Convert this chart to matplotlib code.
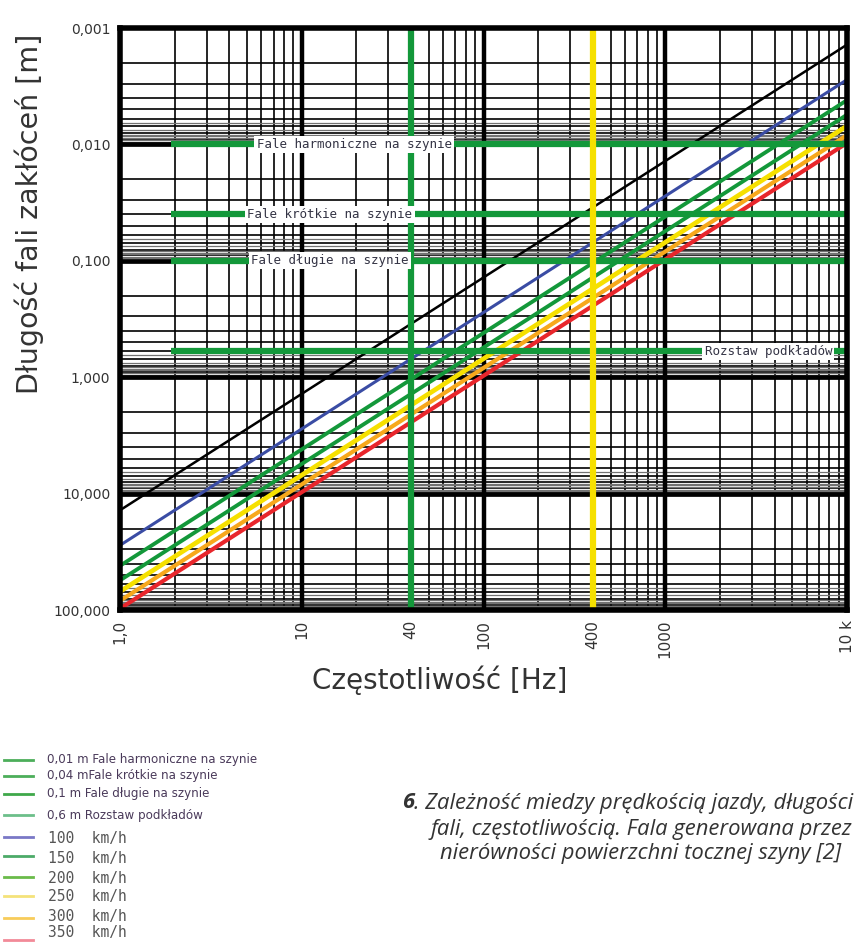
import matplotlib

matplotlib.use("Agg")
import matplotlib.pyplot as plt
from matplotlib.lines import Line2D
from matplotlib.ticker import NullLocator

# speeds (km/h) and the wavelength each gives at the two ends of the frequency range
SPEEDS_KMH = [50, 100, 150, 200, 250, 300, 350]
FREQ_ENDS = [1, 10000]
WAVE_AT_1HZ = [13.9, 27.8, 41.7, 55.6, 69.4, 83.3, 97.2]
WAVE_AT_10KHZ = [0.00139, 0.00278, 0.00417, 0.00556, 0.00694, 0.00833, 0.00972]
SPEED_COLORS = ["black", "#3a4ca4", "#13983a", "#13983a", "#f6e000", "#f7a81c", "#e8262c"]
SPEED_WIDTHS = [1.8, 2.2, 2.8, 2.8, 3.4, 3.0, 3.0]

# characteristic rail wavelengths (m)
REF_LENGTHS = [0.01, 0.04, 0.1, 0.6]
REF_NAMES = ["Fale harmoniczne na szynie", "Fale krótkie na szynie",
             "Fale długie na szynie", "Rozstaw podkładów"]
REF_LABEL_AT = [19.4, 14.3, 14.3, 3690]
REF_START = 1.9

# marked frequencies (Hz)
MARK_FREQS = [40, 400]
MARK_COLORS = ["#13983a", "#f6e000"]

X_TICKS = [1, 10, 40, 100, 400, 1000, 10000]
X_LABELS = ["1,0", "10", "40", "100", "400", "1000", "10 k"]
Y_TICKS = [0.001, 0.01, 0.1, 1, 10, 100]
Y_LABELS = ["0,001", "0,010", "0,100", "1,000", "10,000", "100,000"]

LEGEND_LABELS = ["0,01 m Fale harmoniczne na szynie", "0,04 mFale krótkie na szynie",
                 "0,1 m Fale długie na szynie", "0,6 m Rozstaw podkładów",
                 "100  km/h", "150  km/h", "200  km/h", "250  km/h", "300  km/h", "350  km/h"]
LEGEND_COLORS = ["#4cae5a", "#4cae5a", "#3fa84a", "#6cbf8a",
                 "#7a78c6", "#4caa68", "#6abb4a", "#f4e27a", "#f8cc5a", "#f28a98"]

GREEN = "#13983a"
TEXT = "#333333"

fig = plt.figure(figsize=(8.55, 9.43), dpi=100)
ax = fig.add_axes([120 / 855, 1 - 610 / 943, 727 / 855, 582 / 943])
ax.set_xscale("log")
ax.set_yscale("log")
ax.set_xlim(1, 10000)
ax.set_ylim(100, 0.001)

# grid drawn by hand: thin minor lines, grey fill-in lines, heavy decade lines
for d in range(4):
    for k in range(2, 10):
        ax.axvline(k * 10 ** d, color="black", lw=1.2, zorder=1)
for x in [10, 100, 1000]:
    ax.axvline(x, color="black", lw=3.2, zorder=1.5)
for d in range(-3, 2):
    for k in range(2, 10):
        ax.axhline(k * 10.0 ** d, color="black", lw=1.2, zorder=1)
    for k in [6.5, 7.5, 8.25, 8.5, 8.75, 9.25, 9.5, 9.75]:
        ax.axhline(k * 10.0 ** d, color="0.45", lw=0.9, zorder=1)
for y in [0.01, 0.1, 1, 10]:
    ax.axhline(y, color="black", lw=3.4, zorder=1.5)

for s in ax.spines.values():
    s.set_linewidth(4)
    s.set_zorder(10)

for i in range(len(SPEEDS_KMH)):
    ax.plot(FREQ_ENDS, [WAVE_AT_1HZ[i], WAVE_AT_10KHZ[i]], color=SPEED_COLORS[i],
            lw=SPEED_WIDTHS[i], solid_capstyle="butt", zorder=3)

for y, name, fx in zip(REF_LENGTHS, REF_NAMES, REF_LABEL_AT):
    ax.hlines(y, REF_START, 10000, color=GREEN, lw=4.5, zorder=4)
    ax.text(fx, y, name, ha="center", va="center", fontsize=9, color="#333344",
            family="DejaVu Sans Mono",
            bbox=dict(fc="white", ec="none", pad=1.5), zorder=6)

for f, c in zip(MARK_FREQS, MARK_COLORS):
    ax.axvline(f, color=c, lw=4.5, zorder=5)

ax.xaxis.set_minor_locator(NullLocator())
ax.yaxis.set_minor_locator(NullLocator())
ax.set_xticks(X_TICKS)
ax.set_xticklabels(X_LABELS, rotation=90, fontsize=11, color=TEXT)
ax.set_yticks(Y_TICKS)
ax.set_yticklabels(Y_LABELS, fontsize=10, color=TEXT)
ax.tick_params(length=0, pad=7)

ax.set_ylabel("Długość fali zakłóceń [m]", fontsize=20.5, color=TEXT)
ax.yaxis.set_label_coords(-0.105, 0.68)
ax.set_xlabel("Częstotliwość [Hz]", fontsize=20, color=TEXT)
ax.xaxis.set_label_coords(0.44, -0.095)

# legend block under the chart
line_y = [760, 776, 794, 815, 837, 856, 877, 896, 918, 940]
text_y = [760, 776, 794, 815, 839, 858, 878, 897, 917, 933]
for label, color, ly, ty in zip(LEGEND_LABELS, LEGEND_COLORS, line_y, text_y):
    fig.add_artist(Line2D([4 / 855, 33 / 855], [1 - ly / 943, 1 - ly / 943], color=color,
                          lw=2, transform=fig.transFigure))
    if "km/h" in label:
        fig.text(48 / 855, 1 - ty / 943, label, fontsize=10.5, color="#555555",
                 family="DejaVu Sans Mono", va="center")
    else:
        fig.text(47 / 855, 1 - ty / 943, label, fontsize=8.6, color="#4a3a5a", va="center")

# caption
cap = dict(va="center", fontsize=15.8, style="italic", color=TEXT, family="Open Sans")
cap_x = 641 / 855
first = fig.text(853 / 855, 1 - 803 / 943, ". Zależność miedzy prędkością jazdy, długości",
                 ha="right", **cap)
fig.text(cap_x, 1 - 829 / 943, "fali, częstotliwością. Fala generowana przez", ha="center", **cap)
fig.text(cap_x, 1 - 853 / 943, "nierówności powierzchni tocznej szyny [2]", ha="center", **cap)
bb = first.get_window_extent(fig.canvas.get_renderer())
fig.text(bb.x0 / 855, 1 - 803 / 943, "6", ha="right", weight="bold", **cap)

fig.savefig("out.png", dpi=100)
